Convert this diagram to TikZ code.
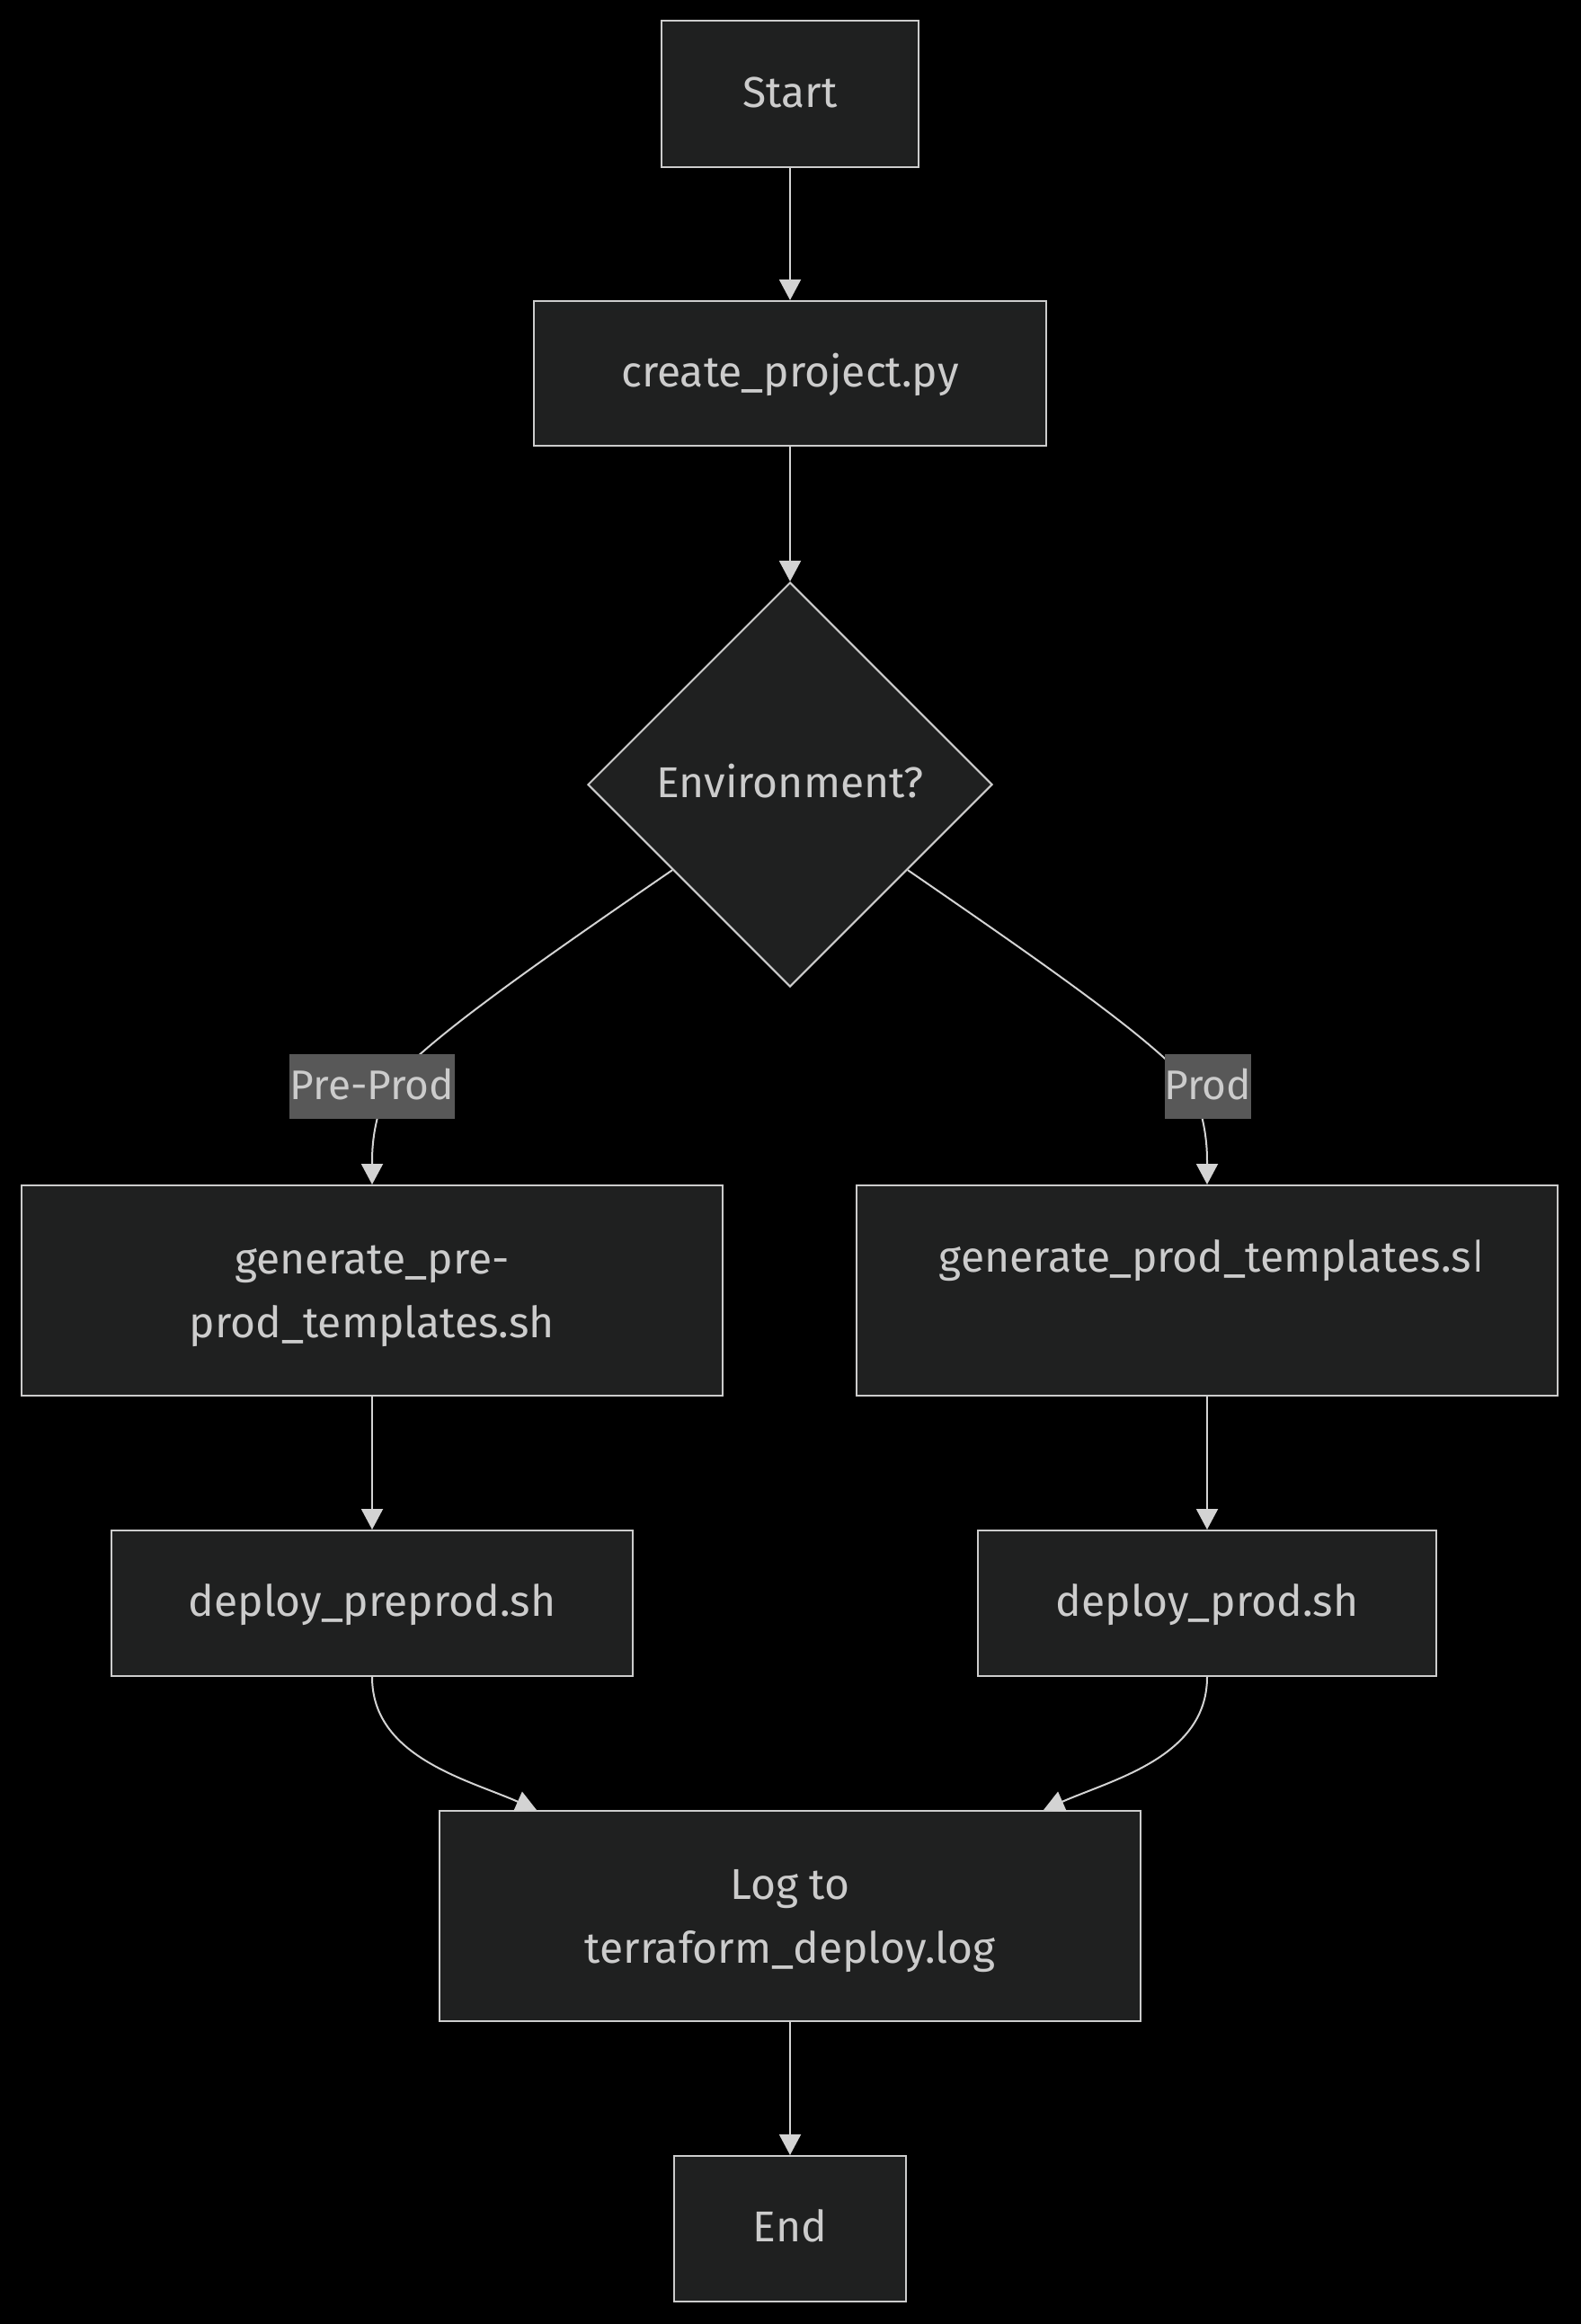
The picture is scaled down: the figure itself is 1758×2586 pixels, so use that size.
\documentclass[tikz,border=0pt]{standalone}
\usepackage{fontspec}
\setmainfont{Fira Sans}
\usetikzlibrary{shapes.geometric,arrows.meta}
\definecolor{canvas}{HTML}{000000}
\definecolor{nodefill}{HTML}{1F2020}
\definecolor{nodeline}{HTML}{CCCCCC}
\definecolor{textc}{HTML}{CCCCCC}
\definecolor{edgec}{HTML}{D3D3D3}
\definecolor{labelbg}{HTML}{585858}
\pgfdeclarelayer{front}
\pgfsetlayers{main,front}
% extra height on the first line of two-line labels
\newcommand{\firstline}{\rule{0pt}{22pt}}

\begin{document}
\begin{tikzpicture}[x=0.5pt,y=-0.5pt,
  every node/.style={font=\fontsize{24}{35.5}\selectfont, text=textc},
  oneline/.style={text height=16pt, text depth=1.5pt},
  box/.style={draw=nodeline, fill=nodefill, line width=1pt, inner sep=0pt, align=center},
  decision/.style={diamond, aspect=1, draw=nodeline, fill=nodefill, line width=1pt,
    inner sep=0pt, minimum width=225pt, minimum height=225pt, oneline},
  elabel/.style={fill=labelbg, inner sep=0pt, minimum height=36pt, oneline,
    font=\fontsize{23}{35.5}\selectfont},
  edge/.style={draw=edgec, line width=1pt, -{Triangle[length=11.5pt,width=12pt]}}
]
% canvas
\useasboundingbox (0,0) rectangle (1758,2586);
\fill[canvas] (-10,-10) rectangle (1768,2596);

% nodes
\node[box, oneline, minimum width=143pt, minimum height=81.5pt] (start) at (879,104.5) {Start};
\node[box, oneline, minimum width=285pt, minimum height=80.5pt] (create) at (879,415.5) {create\_project.py};
\node[decision] (env) at (879,873) {Environment?};
\node[box, minimum width=390pt, minimum height=117pt] (genpre) at (414,1436) {\firstline generate\_pre-\\prod\_templates.sh};
\node[box, minimum width=390pt, minimum height=117pt] (genprod) at (1343,1436) {};
\node[box, oneline, minimum width=290pt, minimum height=81pt] (deppre) at (414,1784) {deploy\_preprod.sh};
\node[box, oneline, minimum width=255pt, minimum height=81pt] (depprod) at (1343,1784) {deploy\_prod.sh};
\node[box, minimum width=390pt, minimum height=117pt] (log) at (879,2132) {\firstline Log to\\terraform\_deploy.log};
\node[box, oneline, minimum width=129pt, minimum height=81pt] (finish) at (879,2480) {End};

% the prod template name is cut off inside its box
\node[anchor=base, inner sep=0pt] (genprodtxt) at (1341,1415.5) {generate\_prod\_templates.s};
\begin{scope}
  \clip (genprodtxt.base east) ++(0,-50) rectangle ++(8,70);
  \node[anchor=base west, inner sep=0pt] (genprodcut) at (genprodtxt.base east) {h};
\end{scope}

% edge labels sit above the connectors
\begin{pgfonlayer}{front}
\node[elabel, minimum width=92pt] (prelab) at (414,1209) {Pre-Prod};
\node[elabel, minimum width=48pt] (prodlab) at (1344,1209) {Prod};
\end{pgfonlayer}

% connectors
\draw[edge] (start) -- (create);
\draw[edge] (create) -- (env);
\draw[edge] (env.216.5) .. controls (600,1070) and (470,1160) .. ([xshift=9pt]prelab.center)
  .. controls (414,1250) and (414,1280) .. (genpre.north);
\draw[edge] (env.324) .. controls (1158,1070) and (1288,1160) .. ([xshift=-9pt]prodlab.center)
  .. controls (1343,1250) and (1343,1280) .. (genprod.north);
\draw[edge] (genpre) -- (deppre);
\draw[edge] (genprod) -- (depprod);
\draw[edge] (deppre.south) .. controls (414,1955) and (520,1980) .. ([xshift=-141pt]log.north);
\draw[edge] (depprod.south) .. controls (1343,1955) and (1238,1980) .. ([xshift=141pt]log.north);
\draw[edge] (log) -- (finish);
\end{tikzpicture}
\end{document}
